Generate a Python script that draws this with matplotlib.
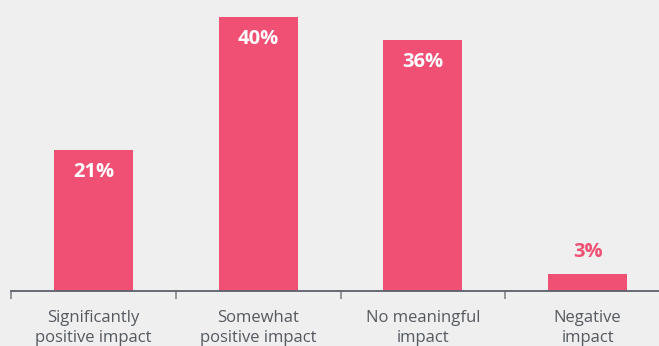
import matplotlib
matplotlib.use("Agg")
import matplotlib.pyplot as plt

categories = ["Significantly\npositive impact", "Somewhat\npositive impact",
              "No meaningful\nimpact", "Negative\nimpact"]
heights = [20.6, 40.0, 36.6, 2.5]
labels = ["21%", "40%", "36%", "3%"]

plt.rcParams['font.family'] = ['Open Sans', 'DejaVu Sans']

bg = '#efefef'
pink = '#f05074'
axis_col = '#5b6068'

fig = plt.figure(figsize=(6.59, 3.46), dpi=100, facecolor=bg)
# axis spans past the right edge like the original
ax = fig.add_axes([11 / 659, 55 / 346, 659 / 659, 291 / 346])
ax.set_facecolor(bg)

x = range(len(categories))
ax.bar(x, heights, width=0.48, color=pink, zorder=2)

ax.set_xlim(-0.5, len(categories) - 0.5)
ax.set_ylim(0, 291 / 6.85)

for i, (h, lab) in enumerate(zip(heights, labels)):
    if h > 10:
        ax.text(i, h - 3.2, lab, ha='center', va='center', color='white',
                fontsize=14.5, fontweight='bold')
    else:
        ax.text(i, h + 3.2, lab, ha='center', va='center', color=pink,
                fontsize=14.5, fontweight='bold')

for s in ['top', 'right', 'left']:
    ax.spines[s].set_visible(False)
ax.spines['bottom'].set_color(axis_col)
ax.spines['bottom'].set_linewidth(1.3)

ax.set_yticks([])
ax.set_xticks(list(x))
ax.set_xticklabels(categories, fontsize=12, color='#555a60', linespacing=1.3)
ax.tick_params(axis='x', which='major', length=0, pad=14)
ax.set_xticks([i - 0.5 for i in range(len(categories) + 1)], minor=True)
ax.tick_params(axis='x', which='minor', length=6, width=1.3, color='#8a8e94')

fig.savefig('out.png', dpi=100, facecolor=bg)
